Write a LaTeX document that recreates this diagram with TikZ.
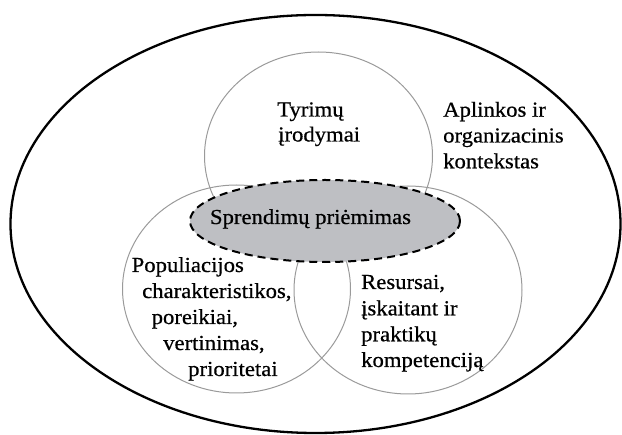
\documentclass[tikz,border=0pt]{standalone}
\usepackage{fontspec}
\setmainfont[FakeStretch=1.06,FakeBold=0.6]{Liberation Serif}
\definecolor{ringgray}{HTML}{9A9A9A}
\definecolor{decfill}{HTML}{BEBFC3}
\begin{document}
\begin{tikzpicture}[x=1pt,y=-1pt,
  lbl/.style={font=\fontsize{21.4}{26}\selectfont, inner sep=0pt, text=black},
  ring/.style={draw=ringgray, line width=1pt},
  outer/.style={draw=black, line width=2.3pt},
  decision/.style={draw=black, fill=decfill, line width=2pt, dash pattern=on 8pt off 5pt}]
\useasboundingbox (0,0) rectangle (622,435);
% outer context ellipse
\draw[outer] (315.5,224) ellipse [x radius=305pt, y radius=209pt];
% three overlapping circles
\draw[ring] (318.5,156) ellipse [x radius=114pt, y radius=104pt];
\draw[ring] (236.5,289) ellipse [x radius=114pt, y radius=104pt];
\draw[ring] (408,290) ellipse [x radius=114pt, y radius=104pt];
% decision making ellipse
\draw[decision] (325,221) ellipse [x radius=135pt, y radius=41pt];
% labels
\node[lbl, anchor=base] (dec) at (310.5,224) {Sprendimų priėmimas};
\node[lbl, anchor=base west] (ev1) at (277,116.5) {Tyrimų};
\node[lbl, anchor=base west] (ev2) at (278,141.5) {įrodymai};
\node[lbl, anchor=base west] (ctx1) at (443,116.7) {Aplinkos ir};
\node[lbl, anchor=base west] (ctx2) at (443,142.5) {organizacinis};
\node[lbl, anchor=base west] (ctx3) at (443,168.3) {kontekstas};
\node[lbl, anchor=base west] (pop1) at (131.5,272) {Populiacijos};
\node[lbl, anchor=base west] (pop2) at (142,298) {charakteristikos,};
\node[lbl, anchor=base west] (pop3) at (151.5,324) {poreikiai,};
\node[lbl, anchor=base west] (pop4) at (163,350) {vertinimas,};
\node[lbl, anchor=base west] (pop5) at (188,376) {prioritetai};
\node[lbl, anchor=base west] (res1) at (361,289) {Resursai,};
\node[lbl, anchor=base west] (res2) at (361,315.3) {įskaitant ir};
\node[lbl, anchor=base west] (res3) at (361,341.3) {praktikų};
\node[lbl, anchor=base west] (res4) at (361,367) {kompetenciją};
\end{tikzpicture}
\end{document}
